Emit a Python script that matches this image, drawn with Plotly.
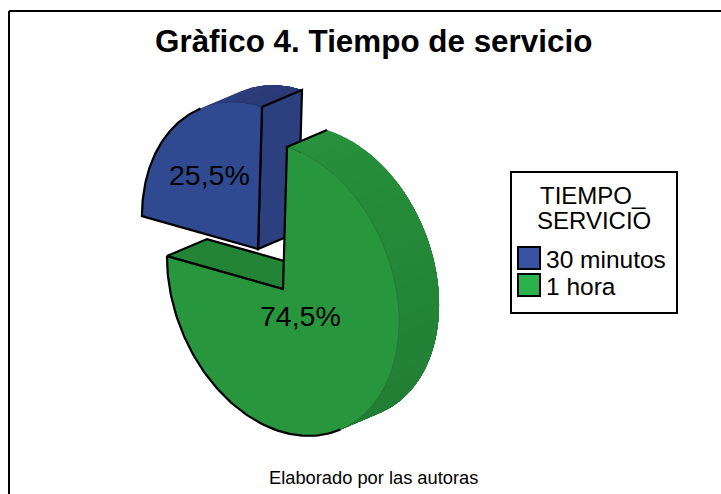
import numpy as np
import plotly.graph_objects as go

# Datos
categorias = ["30 minutos", "1 hora"]
porcentajes = [25.5, 74.5]
etiquetas = ["25,5%", "74,5%"]
titulo_leyenda = ["TIEMPO_", "SERVICIO"]

# Colores: cara, lateral claro, lateral oscuro, leyenda
AZUL = ("#304a91", "#2c3f7e", "#293a75", "#3953a4")
VERDE = ("#28963d", "#27913b", "#207c33", "#2bb24a")

# Geometria de la tarta en pixeles de la pagina
EJE_U = np.array([4.0, -142.0])
EJE_V = np.array([116.0, 37.4])
GROSOR = np.array([40.0, -17.0])
CENTRO_VERDE = np.array([283.0, 289.0])
CENTRO_AZUL = np.array([258.0, 249.0])


def arco(centro, ini, fin, n=90):
    """Puntos del borde entre dos angulos (grados, horario desde arriba)."""
    t = np.radians(np.linspace(ini, fin, n))
    return centro + np.outer(np.cos(t), EJE_U) + np.outer(np.sin(t), EJE_V)


def cruz(a, b):
    return a[0] * b[1] - a[1] * b[0]


def poligono(fig, pts, relleno, linea=None, ancho=0.6):
    pts = np.asarray(pts)
    fig.add_trace(go.Scatter(
        x=np.append(pts[:, 0], pts[0, 0]),
        y=np.append(pts[:, 1], pts[0, 1]),
        mode="lines",
        fill="toself",
        fillcolor=relleno,
        line=dict(color=linea or relleno, width=ancho),
        hoverinfo="skip",
        showlegend=False,
    ))


def trazo(fig, pts, ancho=2.2):
    pts = np.asarray(pts)
    fig.add_trace(go.Scatter(
        x=pts[:, 0], y=pts[:, 1],
        mode="lines",
        line=dict(color="#000000", width=ancho),
        hoverinfo="skip",
        showlegend=False,
    ))


def mezcla(c1, c2, f):
    a = [int(c1[i:i + 2], 16) for i in (1, 3, 5)]
    b = [int(c2[i:i + 2], 16) for i in (1, 3, 5)]
    return "rgb(%d,%d,%d)" % tuple(round(x + (y - x) * f) for x, y in zip(a, b))


def lateral(fig, centro, ini, fin, colores, n=24):
    # cada tramo llega hasta el final y el siguiente lo tapa, asi no quedan rayas
    bordes = np.linspace(ini, fin, n + 1)
    for i in range(n):
        frente = arco(centro, bordes[i], fin, 60)
        atras = (frente + GROSOR)[::-1]
        color = mezcla(colores[1], colores[2], (i + 0.5) / n)
        poligono(fig, np.vstack([frente, atras]), color, ancho=0)


# Angulos a partir de los porcentajes
fin_verde = 360 * porcentajes[1] / sum(porcentajes)
# punto donde el lateral deja de verse (tangente paralela al grosor)
tangente = np.degrees(np.arctan2(cruz(EJE_V, GROSOR), cruz(EJE_U, GROSOR)))
tangente_azul = tangente % 360
tangente_verde = (tangente + 180) % 360

fig = go.Figure()

# Porcion azul (separada)
lateral(fig, CENTRO_AZUL, tangente_azul, 360, AZUL, n=10)
arriba_azul = CENTRO_AZUL + EJE_U
poligono(fig, [CENTRO_AZUL, arriba_azul, arriba_azul + GROSOR, CENTRO_AZUL + GROSOR], AZUL[1])
trazo(fig, [CENTRO_AZUL + GROSOR, CENTRO_AZUL, arriba_azul, arriba_azul + GROSOR, CENTRO_AZUL + GROSOR])
poligono(fig, np.vstack([[CENTRO_AZUL], arco(CENTRO_AZUL, fin_verde, 360)]), AZUL[0], "#1f2f66")
trazo(fig, np.vstack([arco(CENTRO_AZUL, tangente_azul, fin_verde), [CENTRO_AZUL], [arriba_azul]]))

# Porcion verde
lateral(fig, CENTRO_VERDE, 0, tangente_verde, VERDE)
izq_verde = arco(CENTRO_VERDE, fin_verde, fin_verde, 1)[0]
poligono(fig, [CENTRO_VERDE, izq_verde, izq_verde + GROSOR, CENTRO_VERDE + GROSOR], "#228434")
trazo(fig, [CENTRO_VERDE, izq_verde, izq_verde + GROSOR, CENTRO_VERDE + GROSOR])
poligono(fig, np.vstack([[CENTRO_VERDE], arco(CENTRO_VERDE, 0, fin_verde)]), VERDE[0], "#1c6e2d")
arriba_verde = CENTRO_VERDE + EJE_U
trazo(fig, [arriba_verde + GROSOR, arriba_verde, CENTRO_VERDE, izq_verde])
trazo(fig, arco(CENTRO_VERDE, tangente_verde, fin_verde))

FUENTE = "Liberation Sans"


def texto(x, y, s, tam, negrita=False, ancla="center"):
    fig.add_annotation(
        x=x, y=y, text=f"<b>{s}</b>" if negrita else s,
        showarrow=False, xanchor=ancla, yanchor="middle",
        font=dict(family=FUENTE, size=tam, color="#000000"),
    )


texto(373, 41, "Gràfico 4. Tiempo de servicio", 31.4, negrita=True)
texto(209, 175, etiquetas[0], 28.5)
texto(300, 316, etiquetas[1], 28.5)
texto(373, 477, "Elaborado por las autoras", 18.3)

# Leyenda
texto(593, 195, titulo_leyenda[0], 24)
texto(593.5, 220, titulo_leyenda[1], 24)
texto(544, 259, categorias[0], 24.5, ancla="left")
texto(544, 286, categorias[1], 24.5, ancla="left")

formas = [
    dict(type="rect", x0=511, x1=677, y0=172, y1=313, line=dict(color="#000000", width=2)),
    dict(type="rect", x0=518, x1=540, y0=247, y1=269, fillcolor=AZUL[3], line=dict(color="#000000", width=2)),
    dict(type="rect", x0=518, x1=540, y0=274, y1=296, fillcolor=VERDE[3], line=dict(color="#000000", width=2)),
    # marco exterior
    dict(type="line", x0=9, x1=9, y0=11, y1=494, line=dict(color="#000000", width=2)),
    dict(type="line", x0=9, x1=721, y0=11, y1=11, line=dict(color="#000000", width=2)),
]

fig.update_layout(
    width=721,
    height=494,
    margin=dict(l=0, r=0, t=0, b=0),
    paper_bgcolor="#ffffff",
    plot_bgcolor="#ffffff",
    shapes=formas,
    showlegend=False,
    xaxis=dict(range=[0, 721], visible=False, fixedrange=True),
    yaxis=dict(range=[494, 0], visible=False, fixedrange=True),
)

# sin el margen por defecto del body la figura ocupa justo la ventana
fig.write_html(
    "out.html",
    config={"displayModeBar": False},
    post_script="document.body.style.margin='0';document.body.style.overflow='hidden';",
)
